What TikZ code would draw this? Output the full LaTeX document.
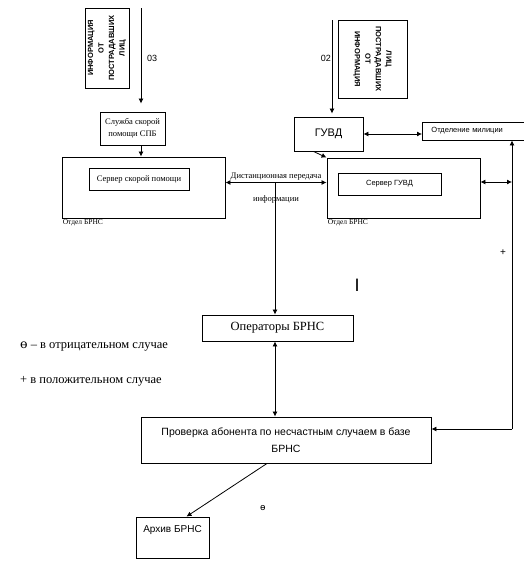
\documentclass[tikz,border=0pt]{standalone}
\usepackage{fontspec}
\setmainfont{Liberation Serif}
\setsansfont{Liberation Sans}
\newfontfamily\baroSans{DejaVu Sans}
\newfontfamily\baroSerif{DejaVu Serif}
\usetikzlibrary{arrows.meta, positioning}
\tikzset{
    box/.style={rectangle, draw=black, line width=0.9pt, inner sep=1pt, align=center},
    infobox/.style={box, font=\sffamily\bfseries\fontsize{7.5}{10.5}\selectfont},
    smallbox/.style={box, font=\fontsize{8.5}{12}\selectfont},
    sansbox/.style={box, font=\sffamily\fontsize{10.5}{17}\selectfont},
    caption/.style={inner sep=1pt, font=\fontsize{7.5}{9}\selectfont},
    note/.style={inner sep=0pt, font=\fontsize{12.5}{14}\selectfont},
    arrow/.style={-{Latex[length=5pt,width=5pt]}, line width=0.8pt},
    dblarrow/.style={{Latex[length=5pt,width=5pt]}-{Latex[length=5pt,width=5pt]}, line width=0.8pt}
}

\begin{document}
\begin{tikzpicture}[x=1pt, y=-1pt]
    \useasboundingbox (0,0) rectangle (523,563);

    % incoming calls
    \node[infobox, rotate=90, minimum width=80pt, minimum height=44pt] (infoL) at (107,48) {ИНФОРМАЦИЯ\\ОТ\\ПОСТРАДАВШИХ\\ЛИЦ};
    \node[infobox, rotate=-90, minimum width=78pt, minimum height=69pt] (infoR) at (372.5,59) {ЛИЦ\\ПОСТРАДАВШИХ\\ОТ\\ИНФОРМАЦИЯ};
    \coordinate (in03) at (141,8);
    \coordinate (in02) at (332,20);
    \node[inner sep=0pt, anchor=west, font=\sffamily\fontsize{9}{11}\selectfont] (num03) at (147,58) {03};
    \node[inner sep=0pt, anchor=east, font=\sffamily\fontsize{9}{11}\selectfont] (num02) at (331,58) {02};

    % ambulance side
    \node[smallbox, minimum width=65pt, minimum height=33pt] (ambul) at (132.5,128.5) {Служба скорой\\помощи СПБ};
    \node[box, minimum width=163pt, minimum height=61pt] (deptL) at (143.5,187.5) {};
    \node[smallbox, minimum width=100pt, minimum height=22pt] (srvAmb) at (139,179) {Сервер скорой помощи};
    \node[caption, anchor=north west] (capL) at (deptL.south west) {Отдел БРНС};

    % police side
    \node[sansbox, font=\sffamily\fontsize{11}{12}\selectfont, minimum width=69pt, minimum height=34pt] (guvd) at (328.5,134) {ГУВД};
    \node[box, anchor=west, minimum height=18pt, text width=100pt, align=left, inner xsep=9pt,
        font=\sffamily\fontsize{7.5}{9}\selectfont] (police) at (422,131) {Отделение милиции};
    \node[box, minimum width=153pt, minimum height=60pt] (deptR) at (403.5,188) {};
    \node[box, font=\sffamily\fontsize{7.5}{9}\selectfont, minimum width=103pt, minimum height=22pt] (srvPol) at (389.5,184) {Сервер ГУВД};
    \node[caption, anchor=north west] (capR) at (deptR.south west) {Отдел БРНС};

    % operators and check
    \node[box, font=\fontsize{12.5}{14}\selectfont, minimum width=151pt, minimum height=26pt] (oper) at (277.5,328) {Операторы БРНС};
    \node[sansbox, minimum width=290pt, minimum height=46pt] (check) at (286,440) {Проверка абонента по несчастным случаем в базе\\БРНС};
    \node[sansbox, font=\sffamily\fontsize{10}{13}\selectfont, minimum width=73pt, minimum height=41pt] (archive) at (172.5,537.5) {Архив БРНС\\\strut};

    \coordinate (hub) at (275,182.5);
    \coordinate (loop) at (512,429);

    % marks and legend
    \node[inner sep=0pt, font=\sffamily\fontsize{18}{20}\selectfont] (bar) at (357,285) {I};
    \node[inner sep=0pt, font=\sffamily\fontsize{10}{12}\selectfont] (plus) at (503,253) {+};
    \node[inner sep=0pt, font=\baroSans\fontsize{9}{11}\selectfont] (neg) at (263,508) {ө};
    \node[note, anchor=west] (legNeg) at (20,347) {{\baroSerif ө} – в отрицательном случае};
    \node[note, anchor=west] (legPos) at (20,381) {+ в положительном случае};

    \draw[arrow, shorten >=8pt] (in03) -- (in03 |- ambul.north);
    \draw[arrow] (ambul.south -| in03) -- (deptL.north -| in03);
    \draw[arrow, shorten >=3pt] (in02) -- (in02 |- guvd.north);
    \draw[dblarrow] (guvd.east) -- (guvd.east -| police.west);
    \draw[arrow] ([xshift=-15pt]guvd.south) -- (deptR.north west);
    \draw[dblarrow] ([yshift=5pt]deptL.east) -- ([yshift=5pt]deptL.east -| deptR.west)
        node[midway, above=2pt, inner sep=0pt, font=\fontsize{8.5}{10}\selectfont] (distT) {Дистанционная передача}
        node[midway, below=13pt, inner sep=0pt, font=\fontsize{8.5}{10}\selectfont] (distB) {информации};
    \draw[arrow] (hub) -- (hub |- oper.north);
    \draw[dblarrow] (oper.south -| hub) -- (check.north -| hub);
    \draw[arrow] ([xshift=-19pt]check.south) -- ([xshift=14pt]archive.north);
    \draw[dblarrow] ([yshift=6pt]deptR.east) -- ([yshift=6pt]deptR.east -| loop);
    \draw[arrow] (loop) -- (loop |- police.south);
    \draw[arrow] (loop) -- (loop -| check.east);

\end{tikzpicture}
\end{document}
